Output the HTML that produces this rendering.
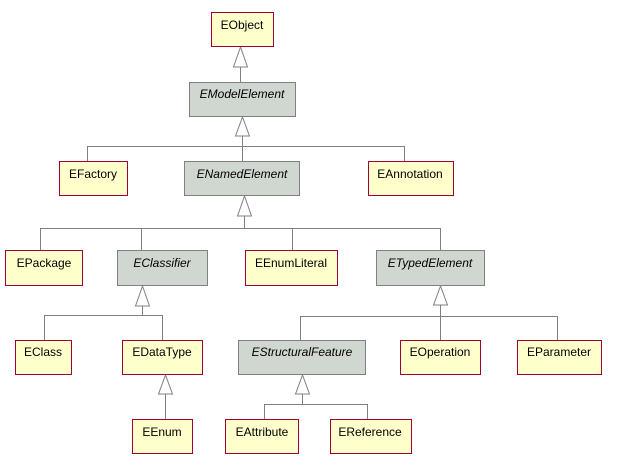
<!DOCTYPE html>
<html><head><meta charset="utf-8"><style>
html,body{margin:0;padding:0;background:#fff;}
svg{display:block;}
text{font-family:"Liberation Sans",sans-serif;font-size:12px;fill:#000;}
.y{fill:#ffffcc;stroke:#a0003a;stroke-width:1;}
.g{fill:#d0d6d0;stroke:#808080;stroke-width:1;}
.l{stroke:#808080;stroke-width:1;fill:none;}
.t{fill:#fff;stroke:#808080;stroke-width:1;}
.i{font-style:italic;}
</style></head><body>
<svg width="644" height="471" viewBox="0 0 644 471" xmlns="http://www.w3.org/2000/svg">
<!-- lines -->
<path class="l" d="M240.5 67V82"/>
<path class="l" d="M242.5 136V161M87.5 161V146.5H404.5V161"/>
<path class="l" d="M244.5 216V228.5M40.5 250V228.5H440.5V250M141.5 228V250M292.5 228V250"/>
<path class="l" d="M142.5 306V315.5M44.5 340V315.5H162.5V340"/>
<path class="l" d="M440.5 305V340M300.5 340V316.5H557.5V340"/>
<path class="l" d="M165.5 394V419"/>
<path class="l" d="M302.5 394V404.5M264.5 419V404.5H367.5V419"/>
<!-- triangles -->
<path class="t" d="M240.5 47L233.5 67H247.5Z"/>
<path class="t" d="M242.5 117L235.5 136H249.5Z"/>
<path class="t" d="M244.5 196L237.5 216H251.5Z"/>
<path class="t" d="M142.5 286L135.5 306H149.5Z"/>
<path class="t" d="M440.5 286L433.5 305H447.5Z"/>
<path class="t" d="M165.5 375L158.5 394H172.5Z"/>
<path class="t" d="M302.5 375L295.5 394H309.5Z"/>
<!-- boxes -->
<rect class="y" x="211.5" y="12.5" width="62" height="34"/><text x="242" y="29" text-anchor="middle">EObject</text>
<rect class="g" x="189.5" y="82.5" width="106" height="34"/><text class="i" x="242" y="98" text-anchor="middle">EModelElement</text>
<rect class="y" x="59.5" y="161.5" width="68" height="34"/><text x="93" y="178" text-anchor="middle">EFactory</text>
<rect class="g" x="184.5" y="161.5" width="115" height="34"/><text class="i" x="242" y="178" text-anchor="middle">ENamedElement</text>
<rect class="y" x="368.5" y="161.5" width="85" height="34"/><text x="410" y="178" text-anchor="middle">EAnnotation</text>
<rect class="y" x="5.5" y="250.5" width="77" height="35"/><text x="44" y="267" text-anchor="middle">EPackage</text>
<rect class="g" x="117.5" y="250.5" width="90" height="35"/><text class="i" x="162" y="267" text-anchor="middle">EClassifier</text>
<rect class="y" x="245.5" y="250.5" width="92" height="35"/><text x="291" y="267" text-anchor="middle">EEnumLiteral</text>
<rect class="g" x="376.5" y="250.5" width="108" height="35"/><text class="i" x="430" y="267" text-anchor="middle">ETypedElement</text>
<rect class="y" x="15.5" y="340.5" width="56" height="34"/><text x="43" y="356" text-anchor="middle">EClass</text>
<rect class="y" x="122.5" y="340.5" width="80" height="34"/><text x="162" y="356" text-anchor="middle">EDataType</text>
<rect class="g" x="238.5" y="340.5" width="127" height="34"/><text class="i" x="302" y="356" text-anchor="middle">EStructuralFeature</text>
<rect class="y" x="400.5" y="340.5" width="80" height="34"/><text x="440" y="356" text-anchor="middle">EOperation</text>
<rect class="y" x="517.5" y="340.5" width="84" height="34"/><text x="559" y="356" text-anchor="middle">EParameter</text>
<rect class="y" x="132.5" y="419.5" width="60" height="34"/><text x="162" y="436" text-anchor="middle">EEnum</text>
<rect class="y" x="225.5" y="419.5" width="73" height="34"/><text x="262" y="436" text-anchor="middle">EAttribute</text>
<rect class="y" x="330.5" y="419.5" width="81" height="34"/><text x="370" y="436" text-anchor="middle">EReference</text>
</svg>
</body></html>
